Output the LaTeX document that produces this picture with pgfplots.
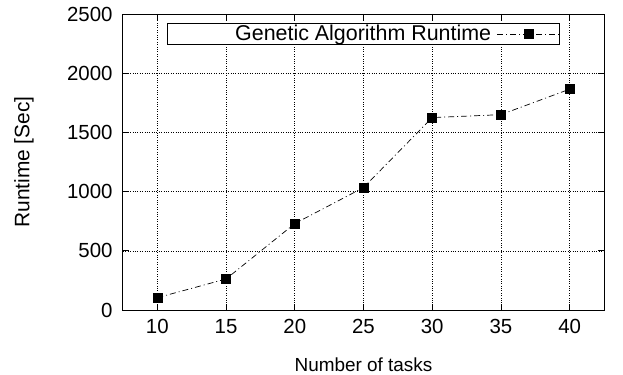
\documentclass[border=0pt]{standalone}
\usepackage{pgfplots}
\pgfplotsset{compat=1.18}
\usepackage{fontspec}
\setmainfont{Liberation Sans}
\begin{document}
\begin{tikzpicture}
\begin{axis}[
  scale only axis,
  width=481bp, height=296bp,
  xmin=7.5, xmax=42.5, ymin=0, ymax=2500,
  xtick={10,15,20,25,30,35,40},
  ytick={0,500,1000,1500,2000,2500},
  tick align=inside,
  major tick length=6bp,
  tick style={black, line width=0.8pt},
  axis line style={line width=1pt},
  grid=major,
  grid style={dotted, black, line width=0.6pt},
  /pgf/number format/assume math mode=true,
  /pgf/number format/1000 sep={},
  font=\fontsize{20}{24}\selectfont,
  ticklabel style={font=\fontsize{20.5}{24}\selectfont},
  xticklabel style={yshift=-6bp},
  yticklabel style={xshift=-7bp},
  xlabel={Number of tasks},
  ylabel={Runtime [Sec]},
  xlabel style={font=\fontsize{19}{22}\selectfont, at={(axis description cs:0.5,-0.186)}, anchor=center},
  ylabel style={font=\fontsize{21}{24}\selectfont, at={(axis description cs:-0.206,0.5)}, anchor=center},
  legend style={at={(0.5,0.97)}, anchor=north, draw=black, line width=1pt,
    font=\fontsize{21.5}{24}\selectfont, inner sep=0pt, row sep=0pt},
  legend plot pos=right,
  legend image code/.code={
    \draw[mark repeat=2,mark phase=2,#1] plot coordinates {(0bp,0bp) (31bp,0bp) (62bp,0bp)};},
]
\addplot[black, line width=0.7pt, dash pattern=on 6bp off 3bp on 1bp off 3bp,
  mark=square*, mark size=4.5bp, mark options={solid}]
coordinates {
(10,104) (15,262) (20,730) (25,1034) (30,1625) (35,1650) (40,1865)
};
\addlegendentry{\makebox[322bp][r]{Genetic Algorithm Runtime}\hspace*{4bp}}
\end{axis}
\pgfresetboundingbox
\path ([xshift=-123bp,yshift=-65bp]current axis.south west) rectangle ([xshift=19bp,yshift=14bp]current axis.north east);
\end{tikzpicture}
\end{document}
